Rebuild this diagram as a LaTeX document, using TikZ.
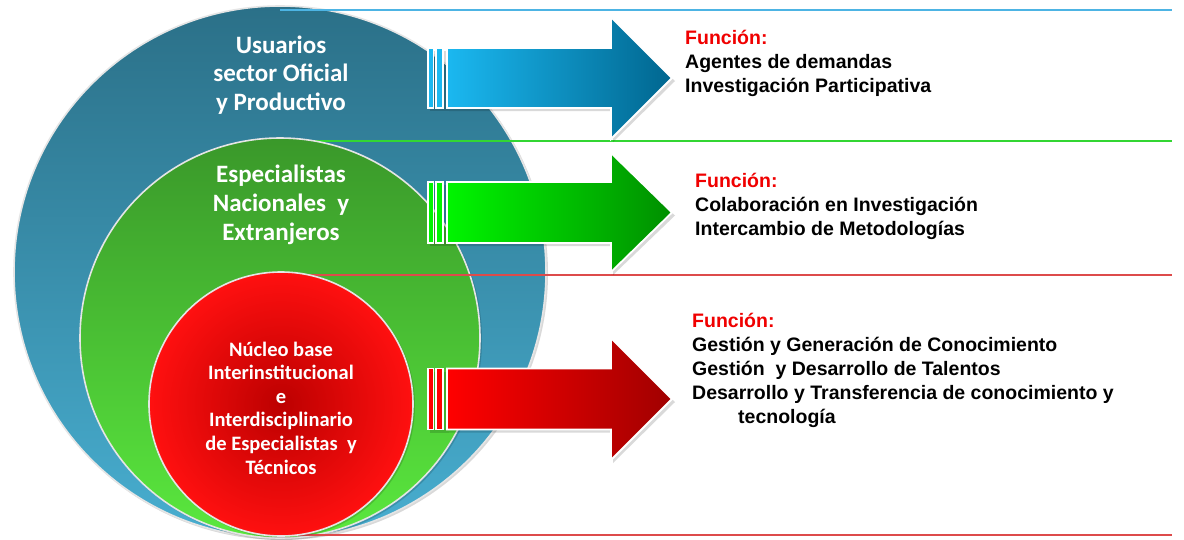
\documentclass[tikz,border=0pt]{standalone}
\usepackage{fontspec}
\setmainfont{Liberation Sans}
\newfontfamily\carlito{Carlito}
\definecolor{bluetop}{HTML}{2B7088}
\definecolor{bluebot}{HTML}{48AED0}
\definecolor{greentop}{HTML}{3A982A}
\definecolor{greenbot}{HTML}{5AE83E}
\definecolor{redin}{HTML}{BC0000}
\definecolor{redout}{HTML}{FF1010}
\definecolor{arrblueL}{HTML}{1BB8F0}
\definecolor{arrblueR}{HTML}{00668F}
\definecolor{arrgreenL}{HTML}{00F500}
\definecolor{arrgreenR}{HTML}{008F00}
\definecolor{arrredL}{HTML}{FF0000}
\definecolor{arrredR}{HTML}{A00000}
\definecolor{lineblue}{HTML}{4DB4E4}
\definecolor{linegreen}{HTML}{33D633}
\definecolor{linered}{HTML}{DD4B4B}
\definecolor{funcred}{HTML}{F00000}
\newcommand\bigarrow[6]{%
  % #1 centre y, #2 body half height, #3 head half height, #4 left colour, #5 right colour, #6 name
  \fill[black,opacity=0.15] (430,{#1-#2+3}) rectangle (449,{#1+#2+3});
  \fill[black,opacity=0.15] (449,{#1-#2+3}) -- (613,{#1-#2+3}) -- (613,{#1-#3+3}) -- (675,{#1+3}) -- (613,{#1+#3+3}) -- (613,{#1+#2+3}) -- (449,{#1+#2+3}) -- cycle;
  \fill[#4,draw=white,line width=1.5pt] (428,{#1-#2}) rectangle (433.5,{#1+#2});
  \fill[#4,draw=white,line width=1.5pt] (436,{#1-#2}) rectangle (443,{#1+#2});
  \shade[left color=#4,right color=#5,draw=white,line width=1.8pt]
    (447,{#1-#2}) -- (611,{#1-#2}) -- (611,{#1-#3}) -- (672,{#1}) -- (611,{#1+#3}) -- (611,{#1+#2}) -- (447,{#1+#2}) -- cycle;
  \coordinate (#6) at (672,#1);
}
\tikzset{
  ring/.style={circle,inner sep=0pt,draw=white!80!gray,line width=1.6pt},
  ringshadow/.style={circle,inner sep=0pt,fill=black,opacity=0.15},
  circtext/.style={text=white,align=center,inner sep=0pt},
  functext/.style={anchor=north west,align=left,inner sep=0pt,font=\bfseries\fontsize{19.5}{24}\selectfont},
  hline/.style={line width=2pt}
}
\begin{document}
\begin{tikzpicture}[x=1pt,y=-1pt]
\useasboundingbox (0,0) rectangle (1184,539);
\fill[white] (0,0) rectangle (1184,539);
% outer circle
\node[ringshadow,minimum size=533pt] at (281.5,273.5) {};
\node[ring,minimum size=532pt,top color=bluetop,bottom color=bluebot] (outer) at (280,272) {};
\coordinate (lb0) at (280,10);
\coordinate (lb1) at (1172,10);
\draw[hline,lineblue] (lb0) -- (lb1);
\coordinate (lg0) at (280,141);
\coordinate (lg1) at (1172,141);
\draw[hline,linegreen] (lg0) -- (lg1);
% middle circle
\node[ringshadow,minimum size=401pt] at (281.5,339.5) {};
\node[ring,minimum size=400pt,top color=greentop,bottom color=greenbot] (middle) at (280,338) {};
\coordinate (lr0) at (280,275);
\coordinate (lr1) at (1172,275);
\draw[hline,linered] (lr0) -- (lr1);
\coordinate (lq0) at (280,535);
\coordinate (lq1) at (1172,535);
\draw[hline,linered] (lq0) -- (lq1);
% inner circle
\node[ringshadow,minimum size=265pt] at (282.5,405.5) {};
\node[ring,minimum size=264pt,shading=radial,inner color=redin,outer color=redout] (inner) at (281,404) {};
% circle texts
\node[circtext,font=\carlito\bfseries\fontsize{25}{28.5}\selectfont] (t1) at (281,75) {Usuarios\\sector Oficial\\y Productivo};
\node[circtext,font=\carlito\bfseries\fontsize{25}{29}\selectfont] (t2) at (281,205) {Especialistas\\Nacionales\ \ y\\Extranjeros};
\node[circtext,font=\carlito\bfseries\fontsize{20.5}{23.6}\selectfont] (t3) at (281,408) {Núcleo base\\Interinstitucional\\e\\Interdisciplinario\\de Especialistas\ \ y\\Técnicos};
% arrows
\bigarrow{78}{30}{61}{arrblueL}{arrblueR}{a1}
\bigarrow{212.5}{30.5}{59.5}{arrgreenL}{arrgreenR}{a2}
\bigarrow{399}{30.5}{61}{arrredL}{arrredR}{a3}
% function texts
\node[functext] (f1) at (685,30) {\textcolor{funcred}{Función:}\\Agentes de demandas\\Investigación Participativa};
\node[functext] (f2) at (695,173) {\textcolor{funcred}{Función:}\\Colaboración en Investigación\\Intercambio de Metodologías};
\node[functext] (f3) at (692,313) {\textcolor{funcred}{Función:}\\Gestión y Generación de Conocimiento\\Gestión\ \ y Desarrollo de Talentos\\Desarrollo y Transferencia de conocimiento y\\\hspace*{46pt}tecnología};
\end{tikzpicture}
\end{document}
